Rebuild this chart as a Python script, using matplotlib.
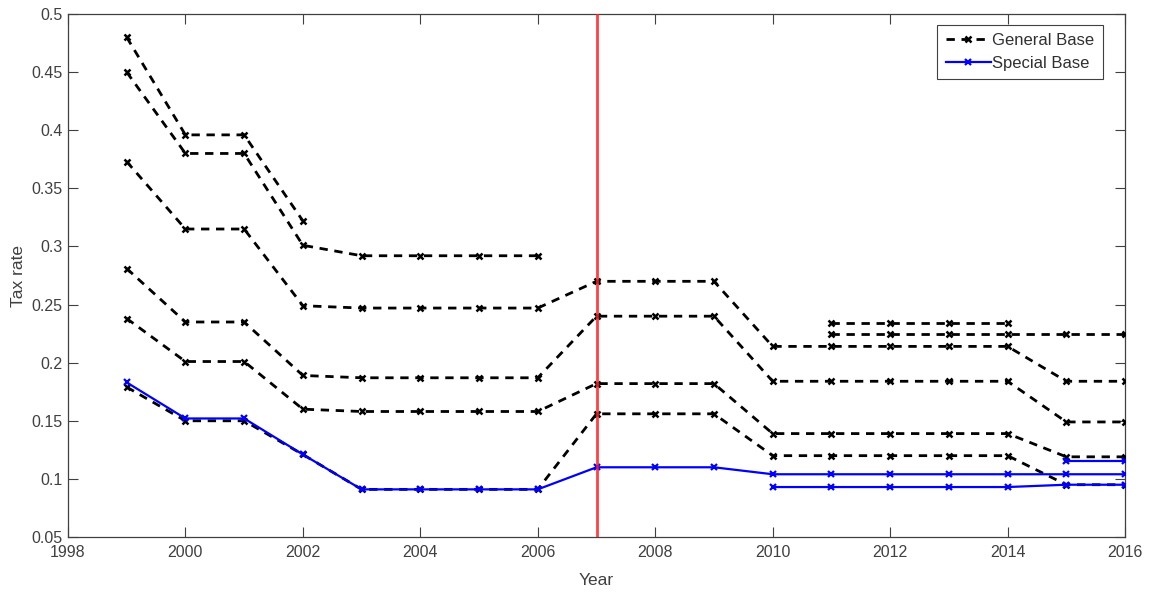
import numpy as np
import matplotlib
matplotlib.use("Agg")
import matplotlib.pyplot as plt

plt.rcParams['font.family'] = ['Liberation Sans', 'DejaVu Sans']

years = list(range(1999, 2017))
N = None

# General Base series (1999..2016), None = no value
general_1 = [0.480, 0.396, 0.396, 0.322, N, N, N, N, N, N, N, N, N, N, N, N, N, N]
general_2 = [0.450, 0.380, 0.380, 0.301, 0.292, 0.292, 0.292, 0.292, N, N, N, N, N, N, N, N, N, N]
general_3 = [0.373, 0.315, 0.315, 0.249, 0.247, 0.247, 0.247, 0.247, 0.270, 0.270, 0.270,
             0.214, 0.214, 0.214, 0.214, 0.214, 0.184, 0.184]
general_4 = [0.281, 0.235, 0.235, 0.189, 0.187, 0.187, 0.187, 0.187, 0.240, 0.240, 0.240,
             0.184, 0.184, 0.184, 0.184, 0.184, 0.149, 0.149]
general_5 = [0.238, 0.201, 0.201, 0.160, 0.158, 0.158, 0.158, 0.158, 0.182, 0.182, 0.182,
             0.139, 0.139, 0.139, 0.139, 0.139, 0.119, 0.119]
general_6 = [0.179, 0.150, 0.150, 0.121, 0.091, 0.091, 0.091, 0.091, 0.156, 0.156, 0.156,
             0.120, 0.120, 0.120, 0.120, 0.120, 0.095, 0.095]
general_7 = [N, N, N, N, N, N, N, N, N, N, N, N, 0.234, 0.234, 0.234, 0.234, N, N]
general_8 = [N, N, N, N, N, N, N, N, N, N, N, N, 0.225, 0.225, 0.225, 0.225, 0.225, 0.225]

# Special Base series
special_1 = [0.183, 0.152, 0.152, 0.121, 0.091, 0.091, 0.091, 0.091, 0.110, 0.110, 0.110,
             0.104, 0.104, 0.104, 0.104, 0.104, 0.104, 0.104]
special_2 = [N, N, N, N, N, N, N, N, N, N, N, 0.093, 0.093, 0.093, 0.093, 0.093, 0.095, 0.095]
special_3 = [N, N, N, N, N, N, N, N, N, N, N, N, N, N, N, N, 0.115, 0.115]

reform_year = 2007

general_series = [general_1, general_2, general_3, general_4, general_5, general_6, general_7, general_8]
special_series = [special_1, special_2, special_3]

def to_arr(v):
    return np.array([np.nan if x is None else x for x in v], dtype=float)

fig = plt.figure(figsize=(11.52, 5.93), dpi=100)
ax = fig.add_axes([0.059, 0.0944, 0.9176, 0.882])

yr = np.array(years)
for i, s in enumerate(general_series):
    ax.plot(yr, to_arr(s), linestyle=(0, (3.0, 2.4)), color='black', linewidth=2.0,
            marker='x', markersize=5, markeredgewidth=1.8,
            label='General Base' if i == 0 else None, zorder=3)
for i, s in enumerate(special_series):
    ax.plot(yr, to_arr(s), linestyle='-', color='#0000ff', linewidth=1.6,
            marker='x', markersize=5, markeredgewidth=1.6,
            label='Special Base' if i == 0 else None, zorder=4)

ax.axvline(reform_year, color='#ff2020', linewidth=2.0, alpha=0.85, zorder=5)

ax.set_xlim(1998, 2016)
ax.set_ylim(0.05, 0.5)
ax.set_xticks(np.arange(1998, 2017, 2))
ax.set_yticks(np.arange(0.05, 0.501, 0.05))
ax.set_yticklabels(['0.05', '0.1', '0.15', '0.2', '0.25', '0.3', '0.35', '0.4', '0.45', '0.5'])

ax.tick_params(direction='in', length=7, width=0.8, top=True, right=True,
               labelsize=11.5, labelcolor='#404040', color='#404040')
ax.tick_params(axis='x', pad=6)
ax.tick_params(axis='y', pad=4)
for sp in ax.spines.values():
    sp.set_color('#404040')
    sp.set_linewidth(0.9)

ax.set_xlabel('Year', fontsize=12.5, color='#404040', labelpad=9)
ax.set_ylabel('Tax rate', fontsize=12.5, color='#404040', labelpad=4)

leg = ax.legend(loc='upper right', bbox_to_anchor=(0.979, 0.979), borderaxespad=0,
                fontsize=12, handlelength=2.7, handletextpad=0.1, borderpad=0.5,
                labelspacing=0.45, fancybox=False, framealpha=1, edgecolor='#404040')
leg.get_frame().set_linewidth(0.8)
for t in leg.get_texts():
    t.set_color('#303030')

fig.savefig('out.png', dpi=100)
